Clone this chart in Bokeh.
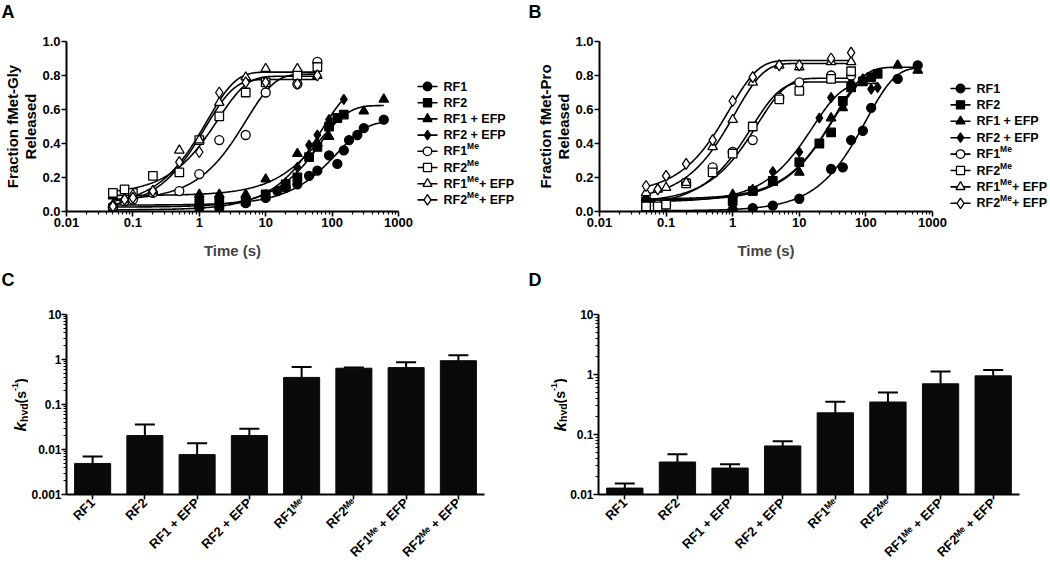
import math
import numpy as np
from bokeh.plotting import figure
from bokeh.models import (FixedTicker, Label, Whisker, ColumnDataSource,
                          TeeHead, FactorRange, Range1d, NumeralTickFormatter, CustomJSTickFormatter)
from bokeh.layouts import column, row
from bokeh.embed import file_html
from bokeh.resources import INLINE
from bokeh.core.properties import value

FONT = "Liberation Sans"

# ---------------- data ----------------
series_names = ["RF1", "RF2", "RF1 + EFP", "RF2 + EFP",
                "RF1\u1d39\u1d49", "RF2\u1d39\u1d49", "RF1\u1d39\u1d49 + EFP", "RF2\u1d39\u1d49 + EFP"]
# legend labels split into base / superscript / suffix
legend_base = ["RF1", "RF2", "RF1 + EFP", "RF2 + EFP", "RF1", "RF2", "RF1", "RF2"]
legend_sup = ["", "", "", "", "Me", "Me", "Me", "Me"]
legend_suffix = ["", "", "", "", "", "", " + EFP", " + EFP"]

# Panel A: fMet-Gly
A_RF1_t = [0.05, 1, 2, 5, 10, 15, 20, 30, 45, 60, 90, 120, 150, 180, 240, 300, 600]
A_RF1_y = [0.02, 0.02, 0.02, 0.05, 0.08, 0.12, 0.14, 0.16, 0.21, 0.24, 0.33, 0.28, 0.36, 0.42, 0.45, 0.49, 0.54]
A_RF2_t = [0.05, 1, 2, 5, 10, 20, 30, 45, 60, 90, 120, 150]
A_RF2_y = [0.02, 0.05, 0.06, 0.06, 0.10, 0.16, 0.20, 0.32, 0.38, 0.50, 0.55, 0.57]
A_RF1EFP_t = [0.05, 1, 2, 5, 10, 30, 60, 90, 300, 600]
A_RF1EFP_y = [0.09, 0.10, 0.10, 0.10, 0.19, 0.34, 0.40, 0.44, 0.59, 0.66]
A_RF2EFP_t = [0.05, 1, 2, 5, 10, 20, 30, 45, 60, 90, 150]
A_RF2EFP_y = [0.02, 0.03, 0.03, 0.06, 0.10, 0.17, 0.26, 0.39, 0.45, 0.54, 0.66]
A_RF1Me_t = [0.05, 0.075, 0.1, 0.2, 0.5, 1, 2, 5, 10, 30, 60]
A_RF1Me_y = [0.03, 0.06, 0.07, 0.11, 0.12, 0.22, 0.42, 0.45, 0.70, 0.75, 0.88]
A_RF2Me_t = [0.05, 0.075, 0.1, 0.2, 0.5, 1, 2, 5, 10, 30, 60]
A_RF2Me_y = [0.11, 0.13, 0.11, 0.21, 0.23, 0.42, 0.56, 0.70, 0.76, 0.80, 0.85]
A_RF1MeEFP_t = [0.05, 0.075, 0.1, 0.2, 0.5, 1, 2, 5, 10, 30, 60]
A_RF1MeEFP_y = [0.04, 0.07, 0.10, 0.12, 0.36, 0.42, 0.64, 0.79, 0.84, 0.84, 0.80]
A_RF2MeEFP_t = [0.05, 0.075, 0.1, 0.2, 0.5, 1, 2, 5, 10, 30, 60]
A_RF2MeEFP_y = [0.03, 0.07, 0.08, 0.12, 0.29, 0.35, 0.70, 0.76, 0.76, 0.75, 0.80]

# Panel B: fMet-Pro
B_RF1_t = [0.05, 1, 2, 4, 10, 30, 45, 60, 90, 120, 300, 600]
B_RF1_y = [0.01, 0.01, 0.02, 0.035, 0.075, 0.25, 0.26, 0.42, 0.475, 0.61, 0.78, 0.86]
B_RF2_t = [0.05, 1, 2, 4, 10, 20, 30, 45, 60, 90, 120, 150]
B_RF2_y = [0.06, 0.06, 0.12, 0.18, 0.29, 0.40, 0.465, 0.65, 0.73, 0.765, 0.79, 0.81]
B_RF1EFP_t = [0.05, 1, 2, 4, 10, 30, 45, 60, 300, 600]
B_RF1EFP_y = [0.08, 0.10, 0.12, 0.17, 0.23, 0.55, 0.61, 0.74, 0.86, 0.83]
B_RF2EFP_t = [0.05, 1, 2, 4, 10, 20, 30, 60, 90, 120, 150]
B_RF2EFP_y = [0.07, 0.09, 0.13, 0.235, 0.35, 0.55, 0.67, 0.76, 0.78, 0.72, 0.73]
B_RF1Me_t = [0.05, 0.075, 0.1, 0.2, 0.5, 1, 2, 5, 10, 30, 60]
B_RF1Me_y = [0.03, 0.04, 0.04, 0.17, 0.26, 0.35, 0.42, 0.67, 0.76, 0.80, 0.80]
B_RF2Me_t = [0.05, 0.075, 0.1, 0.2, 0.5, 1, 2, 5, 10, 30, 60]
B_RF2Me_y = [0.03, 0.03, 0.04, 0.165, 0.23, 0.34, 0.50, 0.66, 0.71, 0.78, 0.825]
B_RF1MeEFP_t = [0.05, 0.075, 0.1, 0.2, 0.5, 1, 2, 5, 10, 30, 60]
B_RF1MeEFP_y = [0.11, 0.13, 0.14, 0.17, 0.38, 0.54, 0.76, 0.86, 0.85, 0.88, 0.88]
B_RF2MeEFP_t = [0.05, 0.075, 0.1, 0.2, 0.5, 1, 2, 5, 10, 30, 60]
B_RF2MeEFP_y = [0.15, 0.13, 0.21, 0.28, 0.42, 0.65, 0.79, 0.86, 0.86, 0.90, 0.935]

# Panels C and D: k_hyd bars (value, upper end of error bar)
bar_labels = series_names
C_khyd = [0.0049, 0.0204, 0.0077, 0.0204, 0.40, 0.64, 0.66, 0.94]
C_upper = [0.0070, 0.036, 0.0138, 0.029, 0.68, 0.66, 0.87, 1.25]
D_khyd = [0.0128, 0.0348, 0.0276, 0.0645, 0.23, 0.348, 0.70, 0.95]
D_upper = [0.0153, 0.047, 0.032, 0.077, 0.35, 0.50, 1.12, 1.19]

x_ticks = [0.01, 0.1, 1, 10, 100, 1000]

A_data = [(A_RF1_t, A_RF1_y), (A_RF2_t, A_RF2_y), (A_RF1EFP_t, A_RF1EFP_y), (A_RF2EFP_t, A_RF2EFP_y),
          (A_RF1Me_t, A_RF1Me_y), (A_RF2Me_t, A_RF2Me_y), (A_RF1MeEFP_t, A_RF1MeEFP_y), (A_RF2MeEFP_t, A_RF2MeEFP_y)]
B_data = [(B_RF1_t, B_RF1_y), (B_RF2_t, B_RF2_y), (B_RF1EFP_t, B_RF1EFP_y), (B_RF2EFP_t, B_RF2EFP_y),
          (B_RF1Me_t, B_RF1Me_y), (B_RF2Me_t, B_RF2Me_y), (B_RF1MeEFP_t, B_RF1MeEFP_y), (B_RF2MeEFP_t, B_RF2MeEFP_y)]

MARKERS = ["circle", "square", "triangle", "diamond"] * 2
FILLS = ["black"] * 4 + ["white"] * 4
SIZES = [9, 8.5, 9.5, 10, 9, 8.5, 9.5, 11]

# layout (page has no margin): strip / row heights and frame geometry
STRIP1_H, ROW1_H, STRIP2_H, ROW2_H = 20, 246, 24, 282
K_TOP, K_FRAME_H = 21, 170          # kinetics frames
BAR_TOP, BAR_FRAME_H = 24, 180      # bar frames

# Arial/Liberation Sans Bold advance widths (em) for legend text layout
ADV = {"R": 0.722, "F": 0.611, "1": 0.556, "2": 0.556, " ": 0.278, "+": 0.584,
       "E": 0.667, "P": 0.667, "M": 0.833, "e": 0.556}


def text_width(s, size):
    return sum(ADV.get(c, 0.6) for c in s) * size


def fit_curve(t, y):
    """Single-exponential least-squares fit y = y0 + A(1 - exp(-k t))."""
    t = np.asarray(t, float)
    y = np.asarray(y, float)
    best = None
    for k in np.logspace(-4, 2, 1501):
        X = np.column_stack([np.ones_like(t), 1 - np.exp(-k * t)])
        coef, *_ = np.linalg.lstsq(X, y, rcond=None)
        r = float(np.sum((X @ coef - y) ** 2))
        if best is None or r < best[0]:
            best = (r, k, coef)
    _, k, (y0, amp) = best
    tt = np.logspace(np.log10(t.min()), np.log10(t.max()), 200)
    return tt, y0 + amp * (1 - np.exp(-k * tt))


def style_axes(p):
    p.outline_line_color = None
    p.grid.visible = False
    for ax in p.axis:
        ax.axis_line_width = 2
        ax.axis_line_color = "black"
        ax.major_tick_line_width = 1.6
        ax.minor_tick_line_width = 1.2
        ax.major_tick_in = 0
        ax.minor_tick_in = 0
        ax.major_tick_out = 5
        ax.minor_tick_out = 3
        ax.major_label_text_font = FONT
        ax.major_label_text_font_style = "bold"
        ax.major_label_text_font_size = "13px"
        ax.major_label_text_color = "black"
        ax.major_label_standoff = 1
        ax.axis_label_text_font = FONT
        ax.axis_label_text_font_style = "bold"
        ax.axis_label_text_font_size = "15px"


def text_fig(w, h, frame_h=None, top=0):
    """Axis-less figure used for texts; its frame may be aligned to neighbours' frames."""
    fh = h if frame_h is None else frame_h
    f = figure(width=w, height=h, x_range=Range1d(0, w), y_range=Range1d(0, fh),
               output_backend="svg", toolbar_location=None,
               min_border_left=0, min_border_right=0,
               min_border_top=top, min_border_bottom=h - top - fh,
               x_axis_location=None, y_axis_location=None)
    f.outline_line_color = None
    f.grid.visible = False
    f.background_fill_color = None
    f.border_fill_color = None
    return f


def add_label(p, x, y, text, size="15px", angle=0.0, align="center", baseline="middle", style="bold"):
    p.add_layout(Label(x=x, y=y, text=text, angle=angle,
                       text_align=align, text_baseline=baseline, text_font=FONT,
                       text_font_size=size, text_font_style=style, text_color="black"))


def kinetics(data, width, left):
    frame_w, frame_h, height, top = 333, K_FRAME_H, ROW1_H, K_TOP
    p = figure(width=width, height=height, x_axis_type="log",
               x_range=Range1d(0.01, 1000), y_range=Range1d(0, 1.0),
               output_backend="svg", toolbar_location=None,
               min_border_left=left, min_border_right=width - left - frame_w,
               min_border_top=top, min_border_bottom=height - top - frame_h)
    minor = [m * 10.0 ** e for e in range(-2, 3) for m in range(2, 10)]
    p.xaxis.ticker = FixedTicker(ticks=x_ticks, minor_ticks=minor)
    p.xaxis.formatter = CustomJSTickFormatter(code="return tick.toString()")
    p.yaxis.ticker = FixedTicker(ticks=[0, 0.2, 0.4, 0.6, 0.8, 1.0], minor_ticks=[])
    p.yaxis.formatter = NumeralTickFormatter(format="0.0")
    style_axes(p)
    p.xaxis.axis_label = "Time (s)"
    p.xaxis.axis_label_standoff = 12
    for i in range(8):
        t, y = data[i]
        tt, yy = fit_curve(t, y)
        p.line(tt, yy, line_color="black", line_width=1.6)
    for i in range(8):
        t, y = data[i]
        p.scatter(t, y, marker=MARKERS[i], size=SIZES[i], fill_color=FILLS[i],
                  line_color="black", line_width=1.3)
    return p


def legend_fig(w, x0, y_top, step, fs=12.5, sup_fs=8.5):
    f = text_fig(w, ROW1_H, K_FRAME_H, K_TOP)
    for i in range(8):
        yc = y_top - step * i
        f.segment(x0=x0, y0=yc, x1=x0 + 20, y1=yc, line_color="black", line_width=1.6)
        f.scatter([x0 + 10], [yc], marker=MARKERS[i], size=SIZES[i] * 0.95, fill_color=FILLS[i],
                  line_color="black", line_width=1.3)
        xt = x0 + 26
        parts = [(legend_base[i], fs, 0), (legend_sup[i], sup_fs, 5), (legend_suffix[i], fs, 0)]
        for txt, size, dy in parts:
            if not txt:
                continue
            f.text([xt], [yc + dy], text=[txt], text_font=value(FONT), text_font_style="bold",
                   text_font_size=value(f"{size}px"), text_baseline="middle", text_align="left",
                   text_color="black")
            xt += text_width(txt, size)
    return f


def add_khyd(f, xb, mid):
    y0 = mid - 27
    add_label(f, xb, y0, "k", size="17px", angle=math.pi / 2, align="left", baseline="alphabetic",
              style="bold italic")
    add_label(f, xb + 3, y0 + 9.5, "hyd", size="10.5px", angle=math.pi / 2, align="left", baseline="alphabetic")
    add_label(f, xb, y0 + 28, "(s", size="14px", angle=math.pi / 2, align="left", baseline="alphabetic")
    add_label(f, xb - 6, y0 + 40.5, "-1", size="9px", angle=math.pi / 2, align="left", baseline="alphabetic")
    add_label(f, xb, y0 + 48.5, ")", size="14px", angle=math.pi / 2, align="left", baseline="alphabetic")


def bars(vals, upper, ymin, width, left, frame_w):
    frame_h, top, height = BAR_FRAME_H, BAR_TOP, ROW2_H
    p = figure(width=width, height=height, x_range=FactorRange(*bar_labels),
               y_axis_type="log", y_range=Range1d(ymin, 10),
               output_backend="svg", toolbar_location=None,
               min_border_left=left, min_border_right=width - left - frame_w,
               min_border_top=top, min_border_bottom=height - top - frame_h)
    src = ColumnDataSource(dict(x=bar_labels, top=vals, upper=upper))
    p.vbar(x="x", top="top", bottom=ymin, width=0.69, source=src,
           fill_color="#0a0a0a", line_color="#0a0a0a")
    p.add_layout(Whisker(source=src, base="x", lower="top", upper="upper", dimension="height",
                         line_width=2, line_color="black",
                         upper_head=TeeHead(size=20, line_width=2, line_color="black"),
                         lower_head=None))
    decs = [10.0 ** e for e in range(int(round(math.log10(ymin))), 2)]
    minor = [m * d for d in decs[:-1] for m in range(2, 10)]
    p.yaxis.ticker = FixedTicker(ticks=decs, minor_ticks=minor)
    p.yaxis.formatter = CustomJSTickFormatter(code="return tick.toString()")
    style_axes(p)
    p.yaxis.major_label_text_font_size = "12px"
    p.yaxis.major_label_standoff = 0
    p.xaxis.major_label_orientation = math.pi / 4
    p.xaxis.major_label_text_font_size = "13px"
    return p


# ---- strip with panel letters A / B ----
strip1 = text_fig(1050, STRIP1_H)
add_label(strip1, 1, STRIP1_H - 1, "A", size="18px", align="left", baseline="top")
add_label(strip1, 528, STRIP1_H - 1, "B", size="18px", align="left", baseline="top")

# ---- top row ----
tA = text_fig(39, ROW1_H, K_FRAME_H, K_TOP)
add_label(tA, 12, K_FRAME_H / 2, "Fraction fMet-Gly", angle=math.pi / 2)
add_label(tA, 30, K_FRAME_H / 2, "Released", angle=math.pi / 2)
pA = kinetics(A_data, 375, 26)
legA = legend_fig(109, 3, 125, 16.2)

tB = text_fig(49, ROW1_H, K_FRAME_H, K_TOP)
add_label(tB, 22, K_FRAME_H / 2, "Fraction fMet-Pro", angle=math.pi / 2)
add_label(tB, 40, K_FRAME_H / 2, "Released", angle=math.pi / 2)
pB = kinetics(B_data, 376, 27)
legB = legend_fig(102, 2, 123, 16.4)

# ---- strip with panel letters C / D ----
strip2 = text_fig(1050, STRIP2_H)
add_label(strip2, 1, STRIP2_H - 3, "C", size="18px", align="left", baseline="top")
add_label(strip2, 528, STRIP2_H - 3, "D", size="18px", align="left", baseline="top")

# ---- bottom row ----
tC = text_fig(28, ROW2_H, BAR_FRAME_H, BAR_TOP)
add_khyd(tC, 20, BAR_FRAME_H / 2)
pC = bars(C_khyd, C_upper, 0.001, 495, 35, 421)

tD = text_fig(44, ROW2_H, BAR_FRAME_H, BAR_TOP)
add_khyd(tD, 36.5, BAR_FRAME_H / 2)
pD = bars(D_khyd, D_upper, 0.01, 483, 31, 421)

layout = column(strip1, row(tA, pA, legA, tB, pB, legB), strip2, row(tC, pC, tD, pD))
open("out.html", "w").write(file_html(layout, INLINE))
